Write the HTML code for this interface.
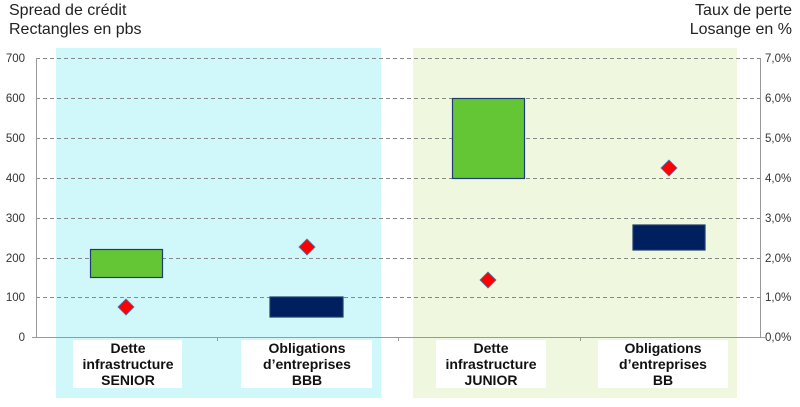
<!DOCTYPE html>
<html><head><meta charset="utf-8"><style>
body{margin:0;width:800px;height:402px;background:#fff;overflow:hidden;font-family:"Liberation Sans",sans-serif}
</style></head><body>
<svg width="800" height="402" xmlns="http://www.w3.org/2000/svg" font-family="Liberation Sans, sans-serif">
<rect x="56" y="48" width="325" height="350" fill="#d0f7f9"/>
<rect x="413" y="48" width="324" height="350" fill="#eff8df"/>
<g stroke="#888" stroke-dasharray="4,3" stroke-width="1">
<line x1="36" x2="760" y1="58.5" y2="58.5"/><line x1="36" x2="760" y1="98.5" y2="98.5"/>
<line x1="36" x2="760" y1="138.5" y2="138.5"/><line x1="36" x2="760" y1="178.5" y2="178.5"/>
<line x1="36" x2="760" y1="218.5" y2="218.5"/><line x1="36" x2="760" y1="258.5" y2="258.5"/>
<line x1="36" x2="760" y1="297.5" y2="297.5"/>
</g>
<g stroke="#999" stroke-width="1">
<line x1="36.5" x2="36.5" y1="58" y2="337"/><line x1="760.5" x2="760.5" y1="58" y2="337"/>
<line x1="32" x2="765" y1="337.5" y2="337.5"/>
<line x1="217.5" x2="217.5" y1="337" y2="341"/><line x1="580.5" x2="580.5" y1="337" y2="341"/>
<line x1="398.5" x2="398.5" y1="337" y2="341"/>
</g>
<g font-size="11.5" fill="#333" text-anchor="end">
<text x="25" y="62">700</text><text x="25" y="102">600</text><text x="25" y="142">500</text>
<text x="25" y="182">400</text><text x="25" y="222">300</text><text x="25" y="262">200</text>
<text x="25" y="301">100</text><text x="25" y="341">0</text>
</g>
<g font-size="11.5" fill="#333">
<text x="765" y="62">7,0%</text><text x="765" y="102">6,0%</text><text x="765" y="142">5,0%</text>
<text x="765" y="182">4,0%</text><text x="765" y="222">3,0%</text><text x="765" y="262">2,0%</text>
<text x="765" y="301">1,0%</text><text x="765" y="341">0,0%</text>
</g>
<g font-size="16" fill="#222">
<text x="9" y="15">Spread de crédit</text><text x="9" y="34">Rectangles en pbs</text>
<text x="792" y="15" text-anchor="end">Taux de perte</text><text x="792" y="34" text-anchor="end">Losange en %</text>
</g>
<g stroke="#1f3c6e" stroke-width="1.2">
<rect x="90.5" y="249.5" width="72" height="28" fill="#64c535"/>
<rect x="452.5" y="98.5" width="72" height="80" fill="#64c535"/>
<rect x="270" y="297" width="73" height="20" fill="#001f5f"/>
<rect x="633" y="225" width="72" height="25" fill="#001f5f"/>
</g>
<g fill="#f00" stroke="#3a7fbf" stroke-width="0.8">
<polygon points="126,299 134,307 126,315 118,307"/>
<polygon points="307,239 315,247 307,255 299,247"/>
<polygon points="488,272 496,280 488,288 480,280"/>
<polygon points="669,160 677,168 669,176 661,168"/>
</g>
<g fill="#fff"><rect x="73" y="340" width="109" height="48"/><rect x="241" y="340" width="131" height="48"/>
<rect x="436" y="340" width="110" height="48"/><rect x="598" y="340" width="130" height="48"/></g>
<g font-size="14" font-weight="bold" fill="#111" text-anchor="middle">
<text x="128" y="353">Dette</text><text x="128" y="369">infrastructure</text><text x="128" y="385">SENIOR</text>
<text x="307" y="353">Obligations</text><text x="307" y="369">d’entreprises</text><text x="307" y="385">BBB</text>
<text x="491" y="353">Dette</text><text x="491" y="369">infrastructure</text><text x="491" y="385">JUNIOR</text>
<text x="663" y="353">Obligations</text><text x="663" y="369">d’entreprises</text><text x="663" y="385">BB</text>
</g>
</svg>
</body></html>
